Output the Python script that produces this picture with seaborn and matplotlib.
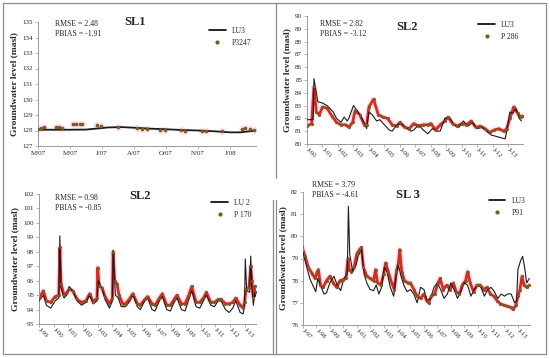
import matplotlib
matplotlib.use("Agg")
import matplotlib.pyplot as plt
from matplotlib.lines import Line2D
import seaborn as sns
import pandas as pd

sns.set_style("white")
plt.rcParams["font.family"] = ["Liberation Serif", "DejaVu Serif"]

# ---- SL1 (P3247 / LU3) ----
sl1_ticks = ["M/07", "M/07", "J/07", "A/07", "O/07", "N/07", "J/08"]
sl1_sim_x = [0, 0.5, 1.0, 1.5, 1.8, 2.2, 2.6, 3.0, 3.5, 4.0, 4.5, 5.0, 5.5, 6.0, 6.3, 6.6, 6.8]
sl1_sim_y = [128.05, 128.05, 128.05, 128.06, 128.12, 128.2, 128.22, 128.18, 128.12, 128.08,
             128.03, 128.0, 127.95, 127.88, 127.88, 127.95, 128.0]
sl1_obs_x = [0.0, 0.1, 0.2, 0.55, 0.65, 0.75, 1.1, 1.2, 1.3, 1.38, 1.85, 1.95, 2.5, 3.1,
             3.25, 3.4, 3.8, 3.95, 4.45, 4.6, 5.1, 5.25, 5.75, 6.35, 6.45, 6.6, 6.75]
sl1_obs_y = [128.12, 128.15, 128.2, 128.2, 128.2, 128.15, 128.45, 128.45, 128.45, 128.45,
             128.35, 128.3, 128.25, 128.15, 128.1, 128.1, 128.05, 128.05, 128.02, 128.0,
             127.98, 127.95, 127.95, 128.1, 128.15, 128.12, 128.05]

# ---- SL2 top (P 286 / LU3) ----
sl2a_sim_x = [2000.0, 2000.4, 2000.45, 2000.7, 2001.0, 2001.3, 2001.7, 2001.9, 2002.2, 2002.4,
              2002.6, 2002.7, 2003.0, 2003.3, 2003.6, 2003.85, 2004.0, 2004.2, 2004.5, 2004.7,
              2005.0, 2005.3, 2005.5, 2005.8, 2006.1, 2006.4, 2006.7, 2006.9, 2007.2, 2007.5,
              2007.8, 2008.1, 2008.4, 2008.6, 2008.9, 2009.2, 2009.5, 2009.8, 2010.1, 2010.4,
              2010.7, 2011.0, 2011.3, 2011.6, 2011.9, 2012.2, 2012.5, 2012.8, 2012.9, 2013.1,
              2013.3, 2013.5, 2013.7, 2013.85]
sl2a_sim_y = [81.9, 81.9, 85.1, 83.3, 83.2, 83.0, 82.5, 82.0, 81.7, 82.1,
              81.8, 82.0, 83.0, 82.5, 81.9, 81.2, 82.5, 82.3, 81.8, 81.9,
              81.5, 81.1, 81.0, 81.5, 81.6, 81.3, 81.0, 81.1, 81.5, 81.1,
              80.8, 81.2, 81.0, 81.0, 82.0, 82.1, 81.5, 81.3, 81.8, 81.4,
              81.7, 81.2, 81.3, 81.0, 80.7, 80.6, 80.5, 80.4, 81.0, 82.5,
              82.4, 82.8, 82.0, 81.8]
sl2a_obs_x = [2000.0, 2000.3, 2000.45, 2000.6, 2000.8, 2001.0, 2001.3, 2001.6, 2001.9, 2002.2,
              2002.5, 2002.7, 2002.95, 2003.1, 2003.4, 2003.7, 2003.85, 2004.0, 2004.3, 2004.6,
              2004.9, 2005.2, 2005.5, 2005.8, 2006.0, 2006.3, 2006.6, 2006.9, 2007.2, 2007.5,
              2007.8, 2008.0, 2008.3, 2008.6, 2008.9, 2009.1, 2009.4, 2009.7, 2010.0, 2010.3,
              2010.6, 2010.9, 2011.2, 2011.5, 2011.8, 2012.1, 2012.4, 2012.7, 2012.9, 2013.1,
              2013.35, 2013.6, 2013.8, 2013.95]
sl2a_obs_y = [81.4, 81.6, 84.5, 82.5, 82.3, 82.9, 82.8, 82.2, 81.7, 81.5,
              81.5, 81.3, 81.7, 82.6, 82.3, 81.5, 81.5, 82.9, 83.5, 82.3,
              82.1, 82.0, 81.5, 81.4, 81.7, 81.3, 81.2, 81.6, 81.4, 81.5,
              81.5, 81.6, 81.1, 81.5, 81.8, 82.1, 81.6, 81.4, 81.6, 81.5,
              81.8, 81.3, 81.4, 81.2, 80.9, 81.1, 81.2, 81.0, 81.2, 82.0,
              82.9, 82.4, 82.1, 82.2]

# ---- SL2 bottom (P 170 / LU 2) ----
sl2b_sim_x = [1999.0, 1999.3, 1999.5, 1999.8, 2000.1, 2000.35, 2000.42, 2000.5, 2000.7, 2000.9,
              2001.05, 2001.3, 2001.6, 2001.9, 2002.2, 2002.45, 2002.7, 2002.95, 2003.05, 2003.3,
              2003.5, 2003.8, 2004.0, 2004.05, 2004.2, 2004.4, 2004.6, 2004.9, 2005.2, 2005.4,
              2005.7, 2005.9, 2006.2, 2006.4, 2006.7, 2006.9, 2007.2, 2007.4, 2007.7, 2007.95,
              2008.2, 2008.4, 2008.7, 2008.95, 2009.2, 2009.4, 2009.7, 2009.95, 2010.2, 2010.4,
              2010.7, 2010.95, 2011.2, 2011.4, 2011.7, 2011.95, 2012.2, 2012.4, 2012.7, 2012.9,
              2013.0, 2013.05, 2013.15, 2013.35, 2013.42, 2013.5, 2013.6, 2013.7, 2013.76]
sl2b_sim_y = [94.6, 95.0, 94.3, 94.1, 94.6, 94.8, 99.1, 95.5, 94.8, 95.0,
              95.6, 95.3, 94.6, 94.3, 94.5, 95.0, 94.4, 94.6, 96.0, 95.4,
              94.7, 94.1, 94.6, 98.1, 95.0, 94.8, 94.2, 94.2, 94.6, 95.0,
              94.2, 94.0, 94.6, 94.8, 94.0, 93.9, 94.6, 94.9, 94.0, 93.9,
              94.5, 94.8, 94.0, 93.9, 94.7, 95.3, 94.2, 94.1, 94.6, 95.0,
              94.3, 94.2, 94.6, 94.6, 94.0, 93.8, 94.1, 94.6, 93.8, 93.7,
              94.2, 97.5, 95.3, 95.2, 97.7, 95.5, 94.3, 95.2, 94.9]
sl2b_obs_x = [1999.0, 1999.3, 1999.5, 1999.8, 2000.1, 2000.35, 2000.42, 2000.5, 2000.7, 2000.9,
              2001.05, 2001.3, 2001.6, 2001.9, 2002.2, 2002.45, 2002.7, 2002.95, 2003.0, 2003.1,
              2003.3, 2003.5, 2003.8, 2004.0, 2004.05, 2004.15, 2004.3, 2004.45, 2004.7, 2004.9,
              2005.2, 2005.4, 2005.7, 2005.9, 2006.2, 2006.4, 2006.7, 2006.9, 2007.2, 2007.4,
              2007.7, 2007.95, 2008.2, 2008.4, 2008.7, 2008.95, 2009.2, 2009.4, 2009.7, 2009.95,
              2010.2, 2010.4, 2010.7, 2010.95, 2011.2, 2011.4, 2011.7, 2011.95, 2012.2, 2012.4,
              2012.7, 2012.9, 2013.0, 2013.1, 2013.3, 2013.42, 2013.5, 2013.6, 2013.7, 2013.76]
sl2b_obs_y = [94.8, 95.3, 94.6, 94.5, 94.9, 95.0, 98.3, 95.8, 95.0, 95.2,
              95.4, 95.3, 94.7, 94.5, 94.6, 95.1, 94.5, 94.8, 96.9, 95.6,
              95.5, 94.9, 94.4, 94.8, 98.0, 96.0, 95.8, 95.0, 94.4, 94.4,
              94.8, 95.1, 94.4, 94.3, 94.7, 94.9, 94.4, 94.3, 94.8, 95.1,
              94.3, 94.3, 94.7, 95.0, 94.4, 94.4, 95.0, 95.6, 94.5, 94.5,
              94.8, 95.2, 94.5, 94.5, 94.7, 94.7, 94.4, 94.4, 94.5, 94.8,
              94.3, 94.1, 94.5, 95.4, 95.5, 97.0, 96.0, 94.8, 95.6, 95.2]

# ---- SL 3 (P91 / LU3) ----
sl3_sim_x = [1996.95, 1997.2, 1997.5, 1997.8, 1997.95, 1998.1, 1998.3, 1998.55, 1998.75, 1999.0,
             1999.3, 1999.55, 1999.8, 2000.05, 2000.3, 2000.38, 2000.48, 2000.7, 2000.95, 2001.1,
             2001.35, 2001.55, 2001.75, 2002.0, 2002.25, 2002.45, 2002.65, 2002.85, 2003.05, 2003.25,
             2003.5, 2003.75, 2003.95, 2004.1, 2004.3, 2004.5, 2004.75, 2005.0, 2005.25, 2005.5,
             2005.75, 2006.0, 2006.25, 2006.5, 2006.75, 2007.0, 2007.25, 2007.5, 2007.75, 2008.0,
             2008.25, 2008.5, 2008.75, 2009.0, 2009.25, 2009.5, 2009.75, 2010.0, 2010.25, 2010.5,
             2010.75, 2011.0, 2011.25, 2011.5, 2011.75, 2012.0, 2012.25, 2012.5, 2012.75, 2012.9,
             2013.0, 2013.2, 2013.35, 2013.5, 2013.65, 2013.85]
sl3_sim_y = [79.4, 78.8, 78.1, 77.7, 77.5, 78.1, 77.8, 77.4, 77.45, 77.9,
             78.2, 77.8, 77.55, 78.1, 78.3, 81.35, 79.2, 78.4, 78.7, 79.1,
             79.4, 78.3, 77.9, 77.6, 77.55, 77.8, 77.4, 77.7, 78.6, 78.4,
             77.7, 77.3, 78.3, 78.7, 78.2, 77.8, 77.5, 77.6, 77.4, 77.0,
             77.7, 77.6, 77.1, 77.2, 77.7, 77.9, 77.6, 77.2, 77.4, 77.9,
             77.6, 77.2, 77.5, 77.9, 77.8, 77.3, 77.6, 77.8, 77.7, 77.3,
             77.6, 77.7, 77.5, 77.2, 77.4, 77.3, 77.4, 77.4, 77.0, 77.1,
             78.5, 78.9, 79.1, 78.6, 77.9, 78.1]
sl3_obs_x = [1996.95, 1997.15, 1997.4, 1997.7, 1997.9, 1998.05, 1998.15, 1998.3, 1998.5, 1998.75,
             1999.0, 1999.25, 1999.5, 1999.75, 2000.0, 2000.2, 2000.35, 2000.45, 2000.6, 2000.8,
             2001.0, 2001.2, 2001.35, 2001.5, 2001.75, 2002.0, 2002.25, 2002.4, 2002.55, 2002.8,
             2003.0, 2003.15, 2003.35, 2003.6, 2003.8, 2003.95, 2004.1, 2004.2, 2004.35, 2004.55,
             2004.8, 2005.0, 2005.25, 2005.5, 2005.75, 2006.0, 2006.2, 2006.35, 2006.55, 2006.8,
             2007.05, 2007.2, 2007.45, 2007.7, 2007.95, 2008.2, 2008.4, 2008.65, 2008.85, 2009.1,
             2009.25, 2009.45, 2009.7, 2009.95, 2010.2, 2010.45, 2010.7, 2010.95, 2011.2, 2011.45,
             2011.7, 2011.95, 2012.2, 2012.45, 2012.65, 2012.85, 2013.0, 2013.15, 2013.3, 2013.45,
             2013.65, 2013.85]
sl3_obs_y = [79.5, 79.1, 78.6, 78.3, 78.1, 78.4, 78.5, 77.8, 77.7, 78.0,
             78.2, 77.9, 77.7, 78.0, 78.05, 78.1, 79.0, 78.5, 78.4, 78.6,
             79.2, 79.4, 79.5, 78.6, 78.2, 78.1, 78.0, 78.5, 77.9, 77.8,
             78.3, 78.8, 78.4, 77.9, 77.6, 78.4, 78.8, 79.4, 78.4, 78.0,
             77.9, 77.9, 77.6, 77.3, 77.2, 77.4, 77.1, 77.0, 77.3, 77.4,
             77.9, 78.1, 77.6, 77.8, 77.6, 77.9, 77.5, 77.4, 77.8, 78.0,
             78.4, 77.9, 77.5, 77.8, 77.8, 77.6, 77.7, 77.4, 77.3, 77.1,
             76.95, 76.9, 76.85, 76.8, 76.7, 76.9, 77.3, 77.6, 78.2, 77.8,
             77.7, 77.8]

RED = "#e3261c"
DOT = "#7a5c22"
PINK = "#ffe3f3"


def draw_panel(ax, sim_x, sim_y, obs_x, obs_y, obs_line, sim_name, obs_name):
    sim = pd.DataFrame({"x": sim_x, "y": sim_y})
    obs = pd.DataFrame({"x": obs_x, "y": obs_y})
    if obs_line:
        sns.lineplot(data=obs, x="x", y="y", ax=ax, color=PINK, lw=4, sort=False, estimator=None, zorder=1)
        sns.lineplot(data=obs, x="x", y="y", ax=ax, color=RED, lw=2.0, sort=False, estimator=None, zorder=2)
    else:
        sns.scatterplot(data=obs, x="x", y="y", ax=ax, color=PINK, s=30, linewidth=0, zorder=1)
    sns.lineplot(data=sim, x="x", y="y", ax=ax, color="#1a1a1a", lw=0.8 if obs_line else 1.3,
                 sort=False, estimator=None, zorder=3)
    sns.scatterplot(data=obs, x="x", y="y", ax=ax, color=DOT, s=5 if obs_line else 7,
                    linewidth=0, zorder=4)
    handles = [Line2D([], [], color="black", lw=1.2),
               Line2D([], [], color=DOT, marker="o", ms=2, lw=0)]
    ax.legend(handles, [sim_name, obs_name], loc="upper right", frameon=False,
              fontsize=5.5, handlelength=2.2, borderaxespad=0.2, labelspacing=0.6)
    for s in ["top", "right"]:
        ax.spines[s].set_visible(False)
    for s in ["left", "bottom"]:
        ax.spines[s].set_color("#9a9a9a")
        ax.spines[s].set_linewidth(0.7)
    ax.tick_params(axis="both", which="both", length=2, width=0.5, color="#9a9a9a",
                   labelsize=5, pad=1.5, direction="out", bottom=True, left=True)
    ax.set_xlabel("")
    ax.set_ylabel("Groundwater level (masl)", fontsize=6.8, fontweight="bold", labelpad=3)


def year_ticks(ax, first, last, end):
    yrs = list(range(first, last + 1))
    ax.set_xticks(yrs)
    ax.set_xticklabels([f"J-{y % 100:02d}" for y in yrs], rotation=-45,
                       rotation_mode="anchor", ha="left", va="center", fontsize=4.8)
    ax.set_xlim(first, end)


W, H = 550, 358
fig = plt.figure(figsize=(5.5, 3.58), dpi=100)

# panel frames: outer border plus separators between the panels
frame_segments = [
    ((3, 3), (546, 3)), ((3, 354), (546, 354)), ((3, 3), (3, 354)), ((546, 3), (546, 354)),
    ((276, 3), (276, 178)), ((273, 200), (273, 354)), ((276, 200), (276, 354)),
]
for (xa, ya), (xb, yb) in frame_segments:
    fig.add_artist(Line2D([xa / W, xb / W], [1 - ya / H, 1 - yb / H], transform=fig.transFigure,
                          color="#8c8c8c", lw=0.9))


def box(l, t, r, b):
    return [l / W, 1 - b / H, (r - l) / W, (b - t) / H]


ax1 = fig.add_axes(box(38, 22, 256, 146))
ax2 = fig.add_axes(box(307, 16, 523, 144))
ax3 = fig.add_axes(box(39, 194, 256, 324))
ax4 = fig.add_axes(box(303, 192, 530, 325))

draw_panel(ax1, sl1_sim_x, sl1_sim_y, sl1_obs_x, sl1_obs_y, False, "LU3", "P3247")
ax1.set_xticks(range(len(sl1_ticks)))
ax1.set_xticklabels(sl1_ticks, fontsize=5)
ax1.set_xlim(0, 6.8)
ax1.set_ylim(127, 135)
ax1.set_yticks(range(127, 136))

draw_panel(ax2, sl2a_sim_x, sl2a_sim_y, sl2a_obs_x, sl2a_obs_y, True, "LU3", "P 286")
year_ticks(ax2, 2000, 2013, 2013.95)
ax2.set_ylim(80, 90)
ax2.set_yticks(range(80, 91))

draw_panel(ax3, sl2b_sim_x, sl2b_sim_y, sl2b_obs_x, sl2b_obs_y, True, "LU 2", "P 170")
year_ticks(ax3, 1999, 2013, 2013.78)
ax3.set_ylim(93, 102)
ax3.set_yticks(range(93, 103))

draw_panel(ax4, sl3_sim_x, sl3_sim_y, sl3_obs_x, sl3_obs_y, True, "LU3", "P91")
year_ticks(ax4, 1997, 2013, 2013.9)
ax4.set_ylim(76, 82)
ax4.set_yticks(range(76, 83))


def ftext(x, y, s, **kw):
    fig.text(x / W, 1 - y / H, s, **kw)


stat_kw = dict(fontsize=5.6, va="top", ha="left", linespacing=1.3)
ftext(55, 20, "RMSE = 2.48\nPBIAS = -1.91", **stat_kw)
ftext(320, 20, "RMSE = 2.82\nPBIAS = -3.12", **stat_kw)
ftext(55, 194, "RMSE = 0.98\nPBIAS = -0.85", **stat_kw)
ftext(312, 181, "RMSE = 3.79\nPBIAS = -4.61", **stat_kw)

title_kw = dict(fontsize=9, fontweight="bold", ha="center", va="center")
ftext(135, 22, "SL1", **title_kw)
ftext(407, 27, "SL2", **title_kw)
ftext(140, 196, "SL2", **title_kw)
ftext(408, 195, "SL 3", **title_kw)

fig.savefig("out.png", dpi=100)
